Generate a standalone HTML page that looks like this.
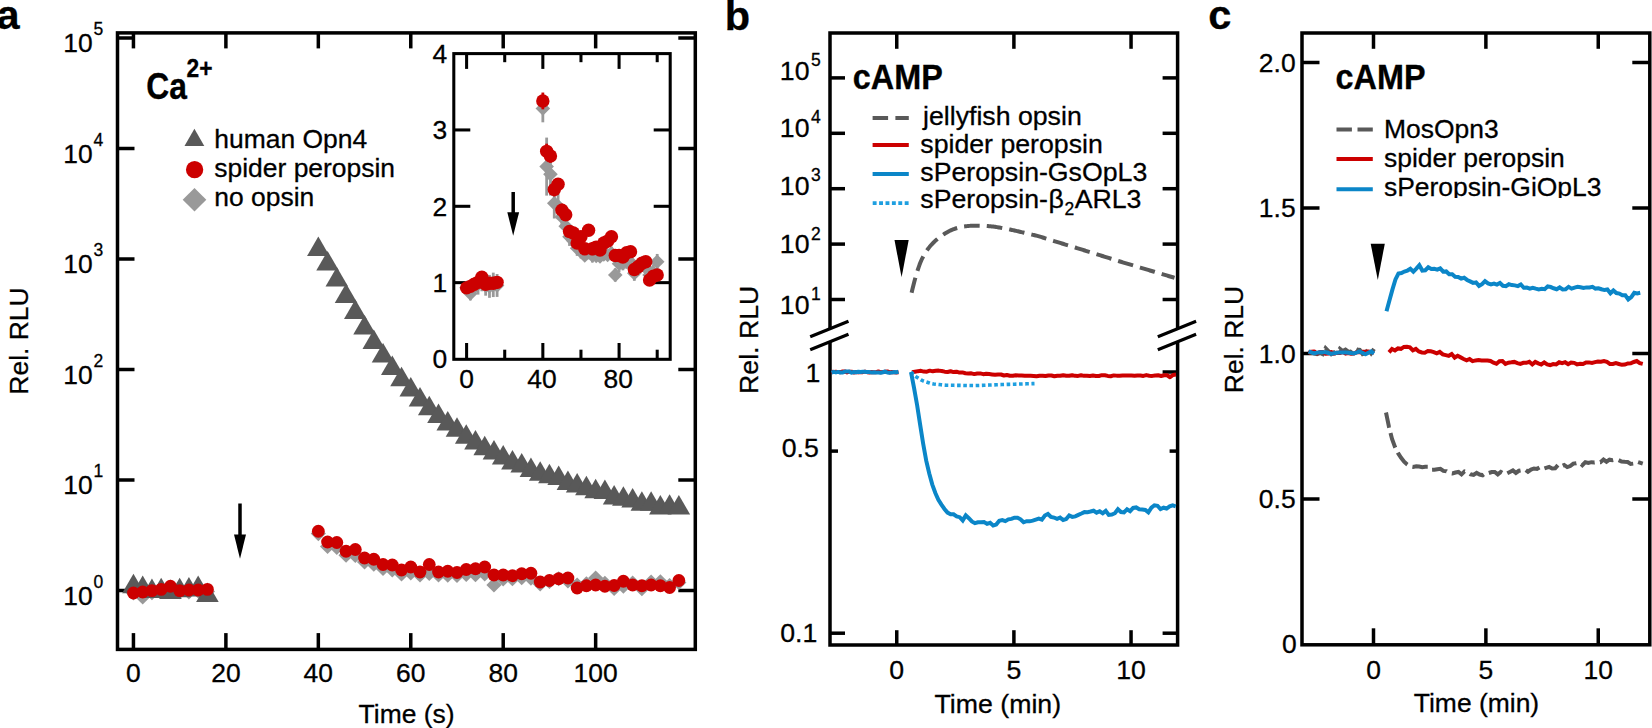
<!DOCTYPE html>
<html lang="en"><head><meta charset="utf-8"><title>Figure</title>
<style>html,body{margin:0;padding:0;background:#fff}svg{display:block}text{font-family:"Liberation Sans",Arial,Helvetica,sans-serif;fill:#000;stroke:#000;stroke-width:0.3px}</style></head><body>
<svg width="1652" height="728" viewBox="0 0 1652 728">
<rect width="1652" height="728" fill="#fff"/>
<g id="panel-a">
<rect x="117.5" y="32.9" width="577.8" height="616.5" fill="none" stroke="#000" stroke-width="3.5"/>
<line x1="133.45" y1="649.4" x2="133.45" y2="633.1" stroke="#000" stroke-width="3.5"/>
<line x1="133.45" y1="32.9" x2="133.45" y2="48.4" stroke="#000" stroke-width="3.5"/>
<text x="133.45" y="682" font-size="26.45" text-anchor="middle">0</text>
<line x1="225.89" y1="649.4" x2="225.89" y2="633.1" stroke="#000" stroke-width="3.5"/>
<line x1="225.89" y1="32.9" x2="225.89" y2="48.4" stroke="#000" stroke-width="3.5"/>
<text x="225.89" y="682" font-size="26.45" text-anchor="middle">20</text>
<line x1="318.33" y1="649.4" x2="318.33" y2="633.1" stroke="#000" stroke-width="3.5"/>
<line x1="318.33" y1="32.9" x2="318.33" y2="48.4" stroke="#000" stroke-width="3.5"/>
<text x="318.33" y="682" font-size="26.45" text-anchor="middle">40</text>
<line x1="410.77" y1="649.4" x2="410.77" y2="633.1" stroke="#000" stroke-width="3.5"/>
<line x1="410.77" y1="32.9" x2="410.77" y2="48.4" stroke="#000" stroke-width="3.5"/>
<text x="410.77" y="682" font-size="26.45" text-anchor="middle">60</text>
<line x1="503.21" y1="649.4" x2="503.21" y2="633.1" stroke="#000" stroke-width="3.5"/>
<line x1="503.21" y1="32.9" x2="503.21" y2="48.4" stroke="#000" stroke-width="3.5"/>
<text x="503.21" y="682" font-size="26.45" text-anchor="middle">80</text>
<line x1="595.65" y1="649.4" x2="595.65" y2="633.1" stroke="#000" stroke-width="3.5"/>
<line x1="595.65" y1="32.9" x2="595.65" y2="48.4" stroke="#000" stroke-width="3.5"/>
<text x="595.65" y="682" font-size="26.45" text-anchor="middle">100</text>
<line x1="117.5" y1="590.5" x2="134.5" y2="590.5" stroke="#000" stroke-width="3.5"/>
<line x1="695.3" y1="590.5" x2="678.3" y2="590.5" stroke="#000" stroke-width="3.5"/>
<text x="92.6" y="604.8" font-size="26.45" text-anchor="end">10</text>
<text x="93.6" y="587.9" font-size="17.5">0</text>
<line x1="117.5" y1="480" x2="134.5" y2="480" stroke="#000" stroke-width="3.5"/>
<line x1="695.3" y1="480" x2="678.3" y2="480" stroke="#000" stroke-width="3.5"/>
<text x="92.6" y="494.3" font-size="26.45" text-anchor="end">10</text>
<text x="93.6" y="477.4" font-size="17.5">1</text>
<line x1="117.5" y1="369.5" x2="134.5" y2="369.5" stroke="#000" stroke-width="3.5"/>
<line x1="695.3" y1="369.5" x2="678.3" y2="369.5" stroke="#000" stroke-width="3.5"/>
<text x="92.6" y="383.8" font-size="26.45" text-anchor="end">10</text>
<text x="93.6" y="366.9" font-size="17.5">2</text>
<line x1="117.5" y1="259" x2="134.5" y2="259" stroke="#000" stroke-width="3.5"/>
<line x1="695.3" y1="259" x2="678.3" y2="259" stroke="#000" stroke-width="3.5"/>
<text x="92.6" y="273.3" font-size="26.45" text-anchor="end">10</text>
<text x="93.6" y="256.4" font-size="17.5">3</text>
<line x1="117.5" y1="148.5" x2="134.5" y2="148.5" stroke="#000" stroke-width="3.5"/>
<line x1="695.3" y1="148.5" x2="678.3" y2="148.5" stroke="#000" stroke-width="3.5"/>
<text x="92.6" y="162.8" font-size="26.45" text-anchor="end">10</text>
<text x="93.6" y="145.9" font-size="17.5">4</text>
<line x1="117.5" y1="38" x2="134.5" y2="38" stroke="#000" stroke-width="3.5"/>
<line x1="695.3" y1="38" x2="678.3" y2="38" stroke="#000" stroke-width="3.5"/>
<text x="92.6" y="52.3" font-size="26.45" text-anchor="end">10</text>
<text x="93.6" y="35.4" font-size="17.5">5</text>
<g id="a-data">
<polygon points="125.85,593 133.45,585.4 141.05,593 133.45,600.6" fill="#999999"/>
<polygon points="135.09,597 142.69,589.4 150.29,597 142.69,604.6" fill="#999999"/>
<polygon points="144.34,592.6 151.94,585 159.54,592.6 151.94,600.2" fill="#999999"/>
<polygon points="153.58,590.4 161.18,582.8 168.78,590.4 161.18,598" fill="#999999"/>
<polygon points="162.83,589.25 170.43,581.65 178.03,589.25 170.43,596.85" fill="#999999"/>
<polygon points="172.07,591.6 179.67,584 187.27,591.6 179.67,599.2" fill="#999999"/>
<polygon points="181.31,592 188.91,584.4 196.51,592 188.91,599.6" fill="#999999"/>
<polygon points="190.56,591 198.16,583.4 205.76,591 198.16,598.6" fill="#999999"/>
<polygon points="199.8,591.4 207.4,583.8 215,591.4 207.4,599" fill="#999999"/>
<polygon points="310.73,533.55 318.33,525.95 325.93,533.55 318.33,541.15" fill="#999999"/>
<polygon points="319.97,546.5 327.57,538.9 335.17,546.5 327.57,554.1" fill="#999999"/>
<polygon points="329.22,547.5 336.82,539.9 344.42,547.5 336.82,555.1" fill="#999999"/>
<polygon points="338.46,555.25 346.06,547.65 353.66,555.25 346.06,562.85" fill="#999999"/>
<polygon points="347.71,555.5 355.31,547.9 362.91,555.5 355.31,563.1" fill="#999999"/>
<polygon points="356.95,562 364.55,554.4 372.15,562 364.55,569.6" fill="#999999"/>
<polygon points="366.19,564.25 373.79,556.65 381.39,564.25 373.79,571.85" fill="#999999"/>
<polygon points="375.44,568.5 383.04,560.9 390.64,568.5 383.04,576.1" fill="#999999"/>
<polygon points="384.68,570 392.28,562.4 399.88,570 392.28,577.6" fill="#999999"/>
<polygon points="393.93,574 401.53,566.4 409.13,574 401.53,581.6" fill="#999999"/>
<polygon points="403.17,573 410.77,565.4 418.37,573 410.77,580.6" fill="#999999"/>
<polygon points="412.41,575 420.01,567.4 427.61,575 420.01,582.6" fill="#999999"/>
<polygon points="421.66,573.5 429.26,565.9 436.86,573.5 429.26,581.1" fill="#999999"/>
<polygon points="430.9,575 438.5,567.4 446.1,575 438.5,582.6" fill="#999999"/>
<polygon points="440.15,575.25 447.75,567.65 455.35,575.25 447.75,582.85" fill="#999999"/>
<polygon points="449.39,575.5 456.99,567.9 464.59,575.5 456.99,583.1" fill="#999999"/>
<polygon points="458.63,574.5 466.23,566.9 473.83,574.5 466.23,582.1" fill="#999999"/>
<polygon points="467.88,574.75 475.48,567.15 483.08,574.75 475.48,582.35" fill="#999999"/>
<polygon points="477.12,574 484.72,566.4 492.32,574 484.72,581.6" fill="#999999"/>
<polygon points="486.37,585 493.97,577.4 501.57,585 493.97,592.6" fill="#999999"/>
<polygon points="495.61,579 503.21,571.4 510.81,579 503.21,586.6" fill="#999999"/>
<polygon points="504.85,578.75 512.45,571.15 520.05,578.75 512.45,586.35" fill="#999999"/>
<polygon points="514.1,577.75 521.7,570.15 529.3,577.75 521.7,585.35" fill="#999999"/>
<polygon points="523.34,578.25 530.94,570.65 538.54,578.25 530.94,585.85" fill="#999999"/>
<polygon points="532.59,584 540.19,576.4 547.79,584 540.19,591.6" fill="#999999"/>
<polygon points="541.83,581.5 549.43,573.9 557.03,581.5 549.43,589.1" fill="#999999"/>
<polygon points="551.07,578.75 558.67,571.15 566.27,578.75 558.67,586.35" fill="#999999"/>
<polygon points="560.32,581 567.92,573.4 575.52,581 567.92,588.6" fill="#999999"/>
<polygon points="569.56,585 577.16,577.4 584.76,585 577.16,592.6" fill="#999999"/>
<polygon points="578.81,583.75 586.41,576.15 594.01,583.75 586.41,591.35" fill="#999999"/>
<polygon points="588.05,578 595.65,570.4 603.25,578 595.65,585.6" fill="#999999"/>
<polygon points="597.29,583.25 604.89,575.65 612.49,583.25 604.89,590.85" fill="#999999"/>
<polygon points="606.54,588.5 614.14,580.9 621.74,588.5 614.14,596.1" fill="#999999"/>
<polygon points="615.78,586.25 623.38,578.65 630.98,586.25 623.38,593.85" fill="#999999"/>
<polygon points="625.03,583 632.63,575.4 640.23,583 632.63,590.6" fill="#999999"/>
<polygon points="634.27,588.75 641.87,581.15 649.47,588.75 641.87,596.35" fill="#999999"/>
<polygon points="643.51,582 651.11,574.4 658.71,582 651.11,589.6" fill="#999999"/>
<polygon points="652.76,581.75 660.36,574.15 667.96,581.75 660.36,589.35" fill="#999999"/>
<polygon points="662,585.5 669.6,577.9 677.2,585.5 669.6,593.1" fill="#999999"/>
<polygon points="671.25,582.5 678.85,574.9 686.45,582.5 678.85,590.1" fill="#999999"/>
<polygon points="122.15,593.25 144.75,593.25 133.45,573.75" fill="#595959"/>
<polygon points="131.39,595.1 153.99,595.1 142.69,575.6" fill="#595959"/>
<polygon points="140.64,598 163.24,598 151.94,578.5" fill="#595959"/>
<polygon points="149.88,597.25 172.48,597.25 161.18,577.75" fill="#595959"/>
<polygon points="159.13,598.9 181.73,598.9 170.43,579.4" fill="#595959"/>
<polygon points="168.37,597.25 190.97,597.25 179.67,577.75" fill="#595959"/>
<polygon points="177.61,596.6 200.21,596.6 188.91,577.1" fill="#595959"/>
<polygon points="186.86,595.1 209.46,595.1 198.16,575.6" fill="#595959"/>
<polygon points="196.1,602 218.7,602 207.4,582.5" fill="#595959"/>
<polygon points="307.03,256.1 329.63,256.1 318.33,236.6" fill="#595959"/>
<polygon points="316.27,270.5 338.87,270.5 327.57,251" fill="#595959"/>
<polygon points="325.52,286.4 348.12,286.4 336.82,266.9" fill="#595959"/>
<polygon points="334.76,303 357.36,303 346.06,283.5" fill="#595959"/>
<polygon points="344.01,319.1 366.61,319.1 355.31,299.6" fill="#595959"/>
<polygon points="353.25,334.5 375.85,334.5 364.55,315" fill="#595959"/>
<polygon points="362.49,348.9 385.09,348.9 373.79,329.4" fill="#595959"/>
<polygon points="371.74,362.6 394.34,362.6 383.04,343.1" fill="#595959"/>
<polygon points="380.98,375 403.58,375 392.28,355.5" fill="#595959"/>
<polygon points="390.23,386.3 412.83,386.3 401.53,366.8" fill="#595959"/>
<polygon points="399.47,396.6 422.07,396.6 410.77,377.1" fill="#595959"/>
<polygon points="408.71,406.6 431.31,406.6 420.01,387.1" fill="#595959"/>
<polygon points="417.96,415.2 440.56,415.2 429.26,395.7" fill="#595959"/>
<polygon points="427.2,422.9 449.8,422.9 438.5,403.4" fill="#595959"/>
<polygon points="436.45,430.5 459.05,430.5 447.75,411" fill="#595959"/>
<polygon points="445.69,436.7 468.29,436.7 456.99,417.2" fill="#595959"/>
<polygon points="454.93,443.75 477.53,443.75 466.23,424.25" fill="#595959"/>
<polygon points="464.18,449.5 486.78,449.5 475.48,430" fill="#595959"/>
<polygon points="473.42,455.25 496.02,455.25 484.72,435.75" fill="#595959"/>
<polygon points="482.67,459.5 505.27,459.5 493.97,440" fill="#595959"/>
<polygon points="491.91,464.5 514.51,464.5 503.21,445" fill="#595959"/>
<polygon points="501.15,469.5 523.75,469.5 512.45,450" fill="#595959"/>
<polygon points="510.4,472.5 533,472.5 521.7,453" fill="#595959"/>
<polygon points="519.64,477 542.24,477 530.94,457.5" fill="#595959"/>
<polygon points="528.89,480.75 551.49,480.75 540.19,461.25" fill="#595959"/>
<polygon points="538.13,483.25 560.73,483.25 549.43,463.75" fill="#595959"/>
<polygon points="547.37,485 569.97,485 558.67,465.5" fill="#595959"/>
<polygon points="556.62,490 579.22,490 567.92,470.5" fill="#595959"/>
<polygon points="565.86,492.5 588.46,492.5 577.16,473" fill="#595959"/>
<polygon points="575.11,495.25 597.71,495.25 586.41,475.75" fill="#595959"/>
<polygon points="584.35,498.25 606.95,498.25 595.65,478.75" fill="#595959"/>
<polygon points="593.59,499 616.19,499 604.89,479.5" fill="#595959"/>
<polygon points="602.84,504.5 625.44,504.5 614.14,485" fill="#595959"/>
<polygon points="612.08,505.75 634.68,505.75 623.38,486.25" fill="#595959"/>
<polygon points="621.33,507.5 643.93,507.5 632.63,488" fill="#595959"/>
<polygon points="630.57,510.75 653.17,510.75 641.87,491.25" fill="#595959"/>
<polygon points="639.81,510.75 662.41,510.75 651.11,491.25" fill="#595959"/>
<polygon points="649.06,514.5 671.66,514.5 660.36,495" fill="#595959"/>
<polygon points="658.3,513.75 680.9,513.75 669.6,494.25" fill="#595959"/>
<polygon points="667.55,514.5 690.15,514.5 678.85,495" fill="#595959"/>
<circle cx="133.45" cy="593" r="6.4" fill="#cc0000"/>
<circle cx="142.69" cy="592" r="6.4" fill="#cc0000"/>
<circle cx="151.94" cy="590.6" r="6.4" fill="#cc0000"/>
<circle cx="161.18" cy="589.4" r="6.4" fill="#cc0000"/>
<circle cx="170.43" cy="586.25" r="6.4" fill="#cc0000"/>
<circle cx="179.67" cy="590.6" r="6.4" fill="#cc0000"/>
<circle cx="188.91" cy="590" r="6.4" fill="#cc0000"/>
<circle cx="198.16" cy="590" r="6.4" fill="#cc0000"/>
<circle cx="207.4" cy="589.4" r="6.4" fill="#cc0000"/>
<circle cx="318.33" cy="531.25" r="6.4" fill="#cc0000"/>
<circle cx="327.57" cy="542" r="6.4" fill="#cc0000"/>
<circle cx="336.82" cy="542.5" r="6.4" fill="#cc0000"/>
<circle cx="346.06" cy="551.25" r="6.4" fill="#cc0000"/>
<circle cx="355.31" cy="549.5" r="6.4" fill="#cc0000"/>
<circle cx="364.55" cy="558" r="6.4" fill="#cc0000"/>
<circle cx="373.79" cy="559.25" r="6.4" fill="#cc0000"/>
<circle cx="383.04" cy="564.5" r="6.4" fill="#cc0000"/>
<circle cx="392.28" cy="565" r="6.4" fill="#cc0000"/>
<circle cx="401.53" cy="570" r="6.4" fill="#cc0000"/>
<circle cx="410.77" cy="567" r="6.4" fill="#cc0000"/>
<circle cx="420.01" cy="572" r="6.4" fill="#cc0000"/>
<circle cx="429.26" cy="564.5" r="6.4" fill="#cc0000"/>
<circle cx="438.5" cy="572" r="6.4" fill="#cc0000"/>
<circle cx="447.75" cy="571.25" r="6.4" fill="#cc0000"/>
<circle cx="456.99" cy="572.5" r="6.4" fill="#cc0000"/>
<circle cx="466.23" cy="569.5" r="6.4" fill="#cc0000"/>
<circle cx="475.48" cy="568.75" r="6.4" fill="#cc0000"/>
<circle cx="484.72" cy="567" r="6.4" fill="#cc0000"/>
<circle cx="493.97" cy="575" r="6.4" fill="#cc0000"/>
<circle cx="503.21" cy="575" r="6.4" fill="#cc0000"/>
<circle cx="512.45" cy="575.75" r="6.4" fill="#cc0000"/>
<circle cx="521.7" cy="573.75" r="6.4" fill="#cc0000"/>
<circle cx="530.94" cy="573.25" r="6.4" fill="#cc0000"/>
<circle cx="540.19" cy="582" r="6.4" fill="#cc0000"/>
<circle cx="549.43" cy="580.5" r="6.4" fill="#cc0000"/>
<circle cx="558.67" cy="578.75" r="6.4" fill="#cc0000"/>
<circle cx="567.92" cy="578" r="6.4" fill="#cc0000"/>
<circle cx="577.16" cy="588" r="6.4" fill="#cc0000"/>
<circle cx="586.41" cy="585.75" r="6.4" fill="#cc0000"/>
<circle cx="595.65" cy="585" r="6.4" fill="#cc0000"/>
<circle cx="604.89" cy="586.25" r="6.4" fill="#cc0000"/>
<circle cx="614.14" cy="585.5" r="6.4" fill="#cc0000"/>
<circle cx="623.38" cy="581.25" r="6.4" fill="#cc0000"/>
<circle cx="632.63" cy="585" r="6.4" fill="#cc0000"/>
<circle cx="641.87" cy="585.75" r="6.4" fill="#cc0000"/>
<circle cx="651.11" cy="585" r="6.4" fill="#cc0000"/>
<circle cx="660.36" cy="585.75" r="6.4" fill="#cc0000"/>
<circle cx="669.6" cy="587.5" r="6.4" fill="#cc0000"/>
<circle cx="678.85" cy="580.5" r="6.4" fill="#cc0000"/>
</g>
<text x="406.6" y="722.5" font-size="26.45" text-anchor="middle">Time (s)</text>
<text transform="translate(27.6 341) rotate(-90)" font-size="26.45" text-anchor="middle">Rel. RLU</text>
<text x="-3.5" y="29.2" font-size="41.5" font-weight="bold">a</text>
<text transform="translate(146.3 98.9) scale(1 1.19)" font-size="31.8" font-weight="bold">Ca</text>
<text transform="translate(186.6 77) scale(1 1.12)" font-size="22.8" font-weight="bold">2+</text>
<polygon points="184.5,146 204.3,146 194.4,128.8" fill="#595959"/>
<circle cx="194.6" cy="169.7" r="8.65" fill="#cc0000"/>
<polygon points="182.7,199.8 194.5,188 206.3,199.8 194.5,211.6" fill="#999999"/>
<text x="214.3" y="147.5" font-size="26.45">human Opn4</text>
<text x="214.3" y="176.6" font-size="26.45">spider peropsin</text>
<text x="214.3" y="206" font-size="26.45">no opsin</text>
<line x1="240" y1="503.5" x2="240" y2="535.4" stroke="#000" stroke-width="3.5"/>
<polygon points="234,534.4 246,534.4 240,558.8" fill="#000"/>
</g>
<g id="inset">
<rect x="453.8" y="53.6" width="216.4" height="305.7" fill="none" stroke="#000" stroke-width="3.05"/>
<line x1="466.6" y1="359.3" x2="466.6" y2="343" stroke="#000" stroke-width="3.05"/>
<line x1="466.6" y1="53.6" x2="466.6" y2="68.9" stroke="#000" stroke-width="3.05"/>
<text x="466.6" y="388.4" font-size="26.45" text-anchor="middle">0</text>
<line x1="504.72" y1="359.3" x2="504.72" y2="349.7" stroke="#000" stroke-width="3.05"/>
<line x1="504.72" y1="53.6" x2="504.72" y2="62.2" stroke="#000" stroke-width="3.05"/>
<line x1="542.84" y1="359.3" x2="542.84" y2="343" stroke="#000" stroke-width="3.05"/>
<line x1="542.84" y1="53.6" x2="542.84" y2="68.9" stroke="#000" stroke-width="3.05"/>
<text x="542.04" y="388.4" font-size="26.45" text-anchor="middle">40</text>
<line x1="580.96" y1="359.3" x2="580.96" y2="349.7" stroke="#000" stroke-width="3.05"/>
<line x1="580.96" y1="53.6" x2="580.96" y2="62.2" stroke="#000" stroke-width="3.05"/>
<line x1="619.08" y1="359.3" x2="619.08" y2="343" stroke="#000" stroke-width="3.05"/>
<line x1="619.08" y1="53.6" x2="619.08" y2="68.9" stroke="#000" stroke-width="3.05"/>
<text x="618.28" y="388.4" font-size="26.45" text-anchor="middle">80</text>
<line x1="657.2" y1="359.3" x2="657.2" y2="349.7" stroke="#000" stroke-width="3.05"/>
<line x1="657.2" y1="53.6" x2="657.2" y2="62.2" stroke="#000" stroke-width="3.05"/>
<text x="447.2" y="368.2" font-size="26.45" text-anchor="end">0</text>
<line x1="453.8" y1="282.65" x2="470.3" y2="282.65" stroke="#000" stroke-width="3.05"/>
<line x1="670.2" y1="282.65" x2="653.7" y2="282.65" stroke="#000" stroke-width="3.05"/>
<text x="447.2" y="291.85" font-size="26.45" text-anchor="end">1</text>
<line x1="453.8" y1="206.3" x2="470.3" y2="206.3" stroke="#000" stroke-width="3.05"/>
<line x1="670.2" y1="206.3" x2="653.7" y2="206.3" stroke="#000" stroke-width="3.05"/>
<text x="447.2" y="215.5" font-size="26.45" text-anchor="end">2</text>
<line x1="453.8" y1="129.95" x2="470.3" y2="129.95" stroke="#000" stroke-width="3.05"/>
<line x1="670.2" y1="129.95" x2="653.7" y2="129.95" stroke="#000" stroke-width="3.05"/>
<text x="447.2" y="139.15" font-size="26.45" text-anchor="end">3</text>
<text x="447.2" y="62.8" font-size="26.45" text-anchor="end">4</text>
<line x1="513.2" y1="192" x2="513.2" y2="213.3" stroke="#000" stroke-width="3.5"/>
<polygon points="507.3,212.3 519.1,212.3 513.2,235.8" fill="#000"/>
<g id="inset-data">
<line x1="466.6" y1="293.98" x2="466.6" y2="281.76" stroke="#999999" stroke-width="2.8"/>
<line x1="470.41" y1="300.43" x2="470.41" y2="286.69" stroke="#999999" stroke-width="2.8"/>
<line x1="474.22" y1="294.91" x2="474.22" y2="279.64" stroke="#999999" stroke-width="2.8"/>
<line x1="478.04" y1="294.6" x2="478.04" y2="273.22" stroke="#999999" stroke-width="2.8"/>
<line x1="481.85" y1="291.25" x2="481.85" y2="272.93" stroke="#999999" stroke-width="2.8"/>
<line x1="485.66" y1="295.69" x2="485.66" y2="275.84" stroke="#999999" stroke-width="2.8"/>
<line x1="489.47" y1="297.83" x2="489.47" y2="274.92" stroke="#999999" stroke-width="2.8"/>
<line x1="493.28" y1="297.06" x2="493.28" y2="272.63" stroke="#999999" stroke-width="2.8"/>
<line x1="497.1" y1="296.91" x2="497.1" y2="274.01" stroke="#999999" stroke-width="2.8"/>
<line x1="542.84" y1="122.32" x2="542.84" y2="94.83" stroke="#999999" stroke-width="2.8"/>
<line x1="546.65" y1="195.61" x2="546.65" y2="137.59" stroke="#999999" stroke-width="2.8"/>
<line x1="550.46" y1="195.61" x2="550.46" y2="152.85" stroke="#999999" stroke-width="2.8"/>
<line x1="554.28" y1="218.52" x2="554.28" y2="187.98" stroke="#999999" stroke-width="2.8"/>
<line x1="558.09" y1="219.28" x2="558.09" y2="193.32" stroke="#999999" stroke-width="2.8"/>
<line x1="561.9" y1="227.68" x2="561.9" y2="206.3" stroke="#999999" stroke-width="2.8"/>
<line x1="565.71" y1="236.08" x2="565.71" y2="216.23" stroke="#999999" stroke-width="2.8"/>
<line x1="569.52" y1="245.92" x2="569.52" y2="227.76" stroke="#999999" stroke-width="2.8"/>
<line x1="573.34" y1="249.66" x2="573.34" y2="231.66" stroke="#999999" stroke-width="2.8"/>
<line x1="577.15" y1="255.87" x2="577.15" y2="240.72" stroke="#999999" stroke-width="2.8"/>
<line x1="580.96" y1="258.5" x2="580.96" y2="243.7" stroke="#999999" stroke-width="2.8"/>
<line x1="584.77" y1="260.8" x2="584.77" y2="250.2" stroke="#999999" stroke-width="2.8"/>
<line x1="588.58" y1="256.86" x2="588.58" y2="247.57" stroke="#999999" stroke-width="2.8"/>
<line x1="592.4" y1="262.5" x2="592.4" y2="248.5" stroke="#999999" stroke-width="2.8"/>
<line x1="596.21" y1="260.89" x2="596.21" y2="251.19" stroke="#999999" stroke-width="2.8"/>
<line x1="600.02" y1="262.03" x2="600.02" y2="251.12" stroke="#999999" stroke-width="2.8"/>
<line x1="603.83" y1="260.11" x2="603.83" y2="248.73" stroke="#999999" stroke-width="2.8"/>
<line x1="607.64" y1="259.68" x2="607.64" y2="250.24" stroke="#999999" stroke-width="2.8"/>
<line x1="611.46" y1="260.03" x2="611.46" y2="246.62" stroke="#999999" stroke-width="2.8"/>
<line x1="615.27" y1="281.57" x2="615.27" y2="268.37" stroke="#999999" stroke-width="2.8"/>
<line x1="619.08" y1="272.22" x2="619.08" y2="255.34" stroke="#999999" stroke-width="2.8"/>
<line x1="622.89" y1="270.24" x2="622.89" y2="256.32" stroke="#999999" stroke-width="2.8"/>
<line x1="626.7" y1="268.78" x2="626.7" y2="253.75" stroke="#999999" stroke-width="2.8"/>
<line x1="630.52" y1="269.15" x2="630.52" y2="255.41" stroke="#999999" stroke-width="2.8"/>
<line x1="634.33" y1="280.82" x2="634.33" y2="265.58" stroke="#999999" stroke-width="2.8"/>
<line x1="638.14" y1="275.29" x2="638.14" y2="261.94" stroke="#999999" stroke-width="2.8"/>
<line x1="641.95" y1="269.14" x2="641.95" y2="257.43" stroke="#999999" stroke-width="2.8"/>
<line x1="645.76" y1="276.82" x2="645.76" y2="258.51" stroke="#999999" stroke-width="2.8"/>
<line x1="649.58" y1="284.11" x2="649.58" y2="265.83" stroke="#999999" stroke-width="2.8"/>
<line x1="653.39" y1="281.18" x2="653.39" y2="264.32" stroke="#999999" stroke-width="2.8"/>
<line x1="657.2" y1="269.6" x2="657.2" y2="253.95" stroke="#999999" stroke-width="2.8"/>
<polygon points="459.3,287.87 466.6,280.57 473.9,287.87 466.6,295.17" fill="#999999"/>
<polygon points="463.11,293.56 470.41,286.26 477.71,293.56 470.41,300.86" fill="#999999"/>
<polygon points="466.92,287.28 474.22,279.98 481.52,287.28 474.22,294.58" fill="#999999"/>
<polygon points="470.74,283.91 478.04,276.61 485.34,283.91 478.04,291.21" fill="#999999"/>
<polygon points="474.55,282.09 481.85,274.79 489.15,282.09 481.85,289.39" fill="#999999"/>
<polygon points="478.36,285.77 485.66,278.47 492.96,285.77 485.66,293.07" fill="#999999"/>
<polygon points="482.17,286.37 489.47,279.07 496.77,286.37 489.47,293.67" fill="#999999"/>
<polygon points="485.98,284.85 493.28,277.55 500.58,284.85 493.28,292.15" fill="#999999"/>
<polygon points="489.8,285.46 497.1,278.16 504.4,285.46 497.1,292.76" fill="#999999"/>
<polygon points="535.54,108.57 542.84,101.27 550.14,108.57 542.84,115.87" fill="#999999"/>
<polygon points="539.35,166.6 546.65,159.3 553.95,166.6 546.65,173.9" fill="#999999"/>
<polygon points="543.16,174.23 550.46,166.93 557.76,174.23 550.46,181.53" fill="#999999"/>
<polygon points="546.98,203.25 554.28,195.95 561.58,203.25 554.28,210.55" fill="#999999"/>
<polygon points="550.79,206.3 558.09,199 565.39,206.3 558.09,213.6" fill="#999999"/>
<polygon points="554.6,216.99 561.9,209.69 569.2,216.99 561.9,224.29" fill="#999999"/>
<polygon points="558.41,226.15 565.71,218.85 573.01,226.15 565.71,233.45" fill="#999999"/>
<polygon points="562.22,236.84 569.52,229.54 576.82,236.84 569.52,244.14" fill="#999999"/>
<polygon points="566.04,240.66 573.34,233.36 580.64,240.66 573.34,247.96" fill="#999999"/>
<polygon points="569.85,248.29 577.15,240.99 584.45,248.29 577.15,255.59" fill="#999999"/>
<polygon points="573.66,251.1 580.96,243.8 588.26,251.1 580.96,258.4" fill="#999999"/>
<polygon points="577.47,255.5 584.77,248.2 592.07,255.5 584.77,262.8" fill="#999999"/>
<polygon points="581.28,252.21 588.58,244.91 595.88,252.21 588.58,259.51" fill="#999999"/>
<polygon points="585.1,255.5 592.4,248.2 599.7,255.5 592.4,262.8" fill="#999999"/>
<polygon points="588.91,256.04 596.21,248.74 603.51,256.04 596.21,263.34" fill="#999999"/>
<polygon points="592.72,256.57 600.02,249.27 607.32,256.57 600.02,263.87" fill="#999999"/>
<polygon points="596.53,254.42 603.83,247.12 611.13,254.42 603.83,261.72" fill="#999999"/>
<polygon points="600.34,254.96 607.64,247.66 614.94,254.96 607.64,262.26" fill="#999999"/>
<polygon points="604.16,253.32 611.46,246.02 618.76,253.32 611.46,260.62" fill="#999999"/>
<polygon points="607.97,274.97 615.27,267.67 622.57,274.97 615.27,282.27" fill="#999999"/>
<polygon points="611.78,263.78 619.08,256.48 626.38,263.78 619.08,271.08" fill="#999999"/>
<polygon points="615.59,263.28 622.89,255.98 630.19,263.28 622.89,270.58" fill="#999999"/>
<polygon points="619.4,261.27 626.7,253.97 634,261.27 626.7,268.57" fill="#999999"/>
<polygon points="623.22,262.28 630.52,254.98 637.82,262.28 630.52,269.58" fill="#999999"/>
<polygon points="627.03,273.2 634.33,265.9 641.63,273.2 634.33,280.5" fill="#999999"/>
<polygon points="630.84,268.61 638.14,261.31 645.44,268.61 638.14,275.91" fill="#999999"/>
<polygon points="634.65,263.28 641.95,255.98 649.25,263.28 641.95,270.58" fill="#999999"/>
<polygon points="638.46,267.67 645.76,260.37 653.06,267.67 645.76,274.97" fill="#999999"/>
<polygon points="642.28,274.97 649.58,267.67 656.88,274.97 649.58,282.27" fill="#999999"/>
<polygon points="646.09,272.75 653.39,265.45 660.69,272.75 653.39,280.05" fill="#999999"/>
<polygon points="649.9,261.77 657.2,254.47 664.5,261.77 657.2,269.07" fill="#999999"/>
<line x1="466.6" y1="291.75" x2="466.6" y2="284" stroke="#cc0000" stroke-width="2.8"/>
<circle cx="466.6" cy="287.87" r="6.7" fill="#cc0000"/>
<line x1="470.41" y1="289.92" x2="470.41" y2="282.83" stroke="#cc0000" stroke-width="2.8"/>
<circle cx="470.41" cy="286.37" r="6.7" fill="#cc0000"/>
<line x1="474.22" y1="288" x2="474.22" y2="280.45" stroke="#cc0000" stroke-width="2.8"/>
<circle cx="474.22" cy="284.22" r="6.7" fill="#cc0000"/>
<line x1="478.04" y1="285.27" x2="478.04" y2="279.39" stroke="#cc0000" stroke-width="2.8"/>
<circle cx="478.04" cy="282.33" r="6.7" fill="#cc0000"/>
<line x1="481.85" y1="282.73" x2="481.85" y2="271.53" stroke="#cc0000" stroke-width="2.8"/>
<circle cx="481.85" cy="277.13" r="6.7" fill="#cc0000"/>
<line x1="485.66" y1="288.43" x2="485.66" y2="280.02" stroke="#cc0000" stroke-width="2.8"/>
<circle cx="485.66" cy="284.22" r="6.7" fill="#cc0000"/>
<line x1="489.47" y1="289.19" x2="489.47" y2="277.38" stroke="#cc0000" stroke-width="2.8"/>
<circle cx="489.47" cy="283.28" r="6.7" fill="#cc0000"/>
<line x1="493.28" y1="287.43" x2="493.28" y2="279.14" stroke="#cc0000" stroke-width="2.8"/>
<circle cx="493.28" cy="283.28" r="6.7" fill="#cc0000"/>
<line x1="497.1" y1="288.66" x2="497.1" y2="276" stroke="#cc0000" stroke-width="2.8"/>
<circle cx="497.1" cy="282.33" r="6.7" fill="#cc0000"/>
<line x1="542.84" y1="109.34" x2="542.84" y2="92.54" stroke="#cc0000" stroke-width="2.8"/>
<circle cx="542.84" cy="100.94" r="6.7" fill="#cc0000"/>
<line x1="546.65" y1="158.96" x2="546.65" y2="143.69" stroke="#cc0000" stroke-width="2.8"/>
<circle cx="546.65" cy="151.33" r="6.7" fill="#cc0000"/>
<line x1="550.46" y1="162.78" x2="550.46" y2="149.04" stroke="#cc0000" stroke-width="2.8"/>
<circle cx="550.46" cy="155.91" r="6.7" fill="#cc0000"/>
<line x1="554.28" y1="196.37" x2="554.28" y2="182.63" stroke="#cc0000" stroke-width="2.8"/>
<circle cx="554.28" cy="189.5" r="6.7" fill="#cc0000"/>
<line x1="558.09" y1="190.27" x2="558.09" y2="178.05" stroke="#cc0000" stroke-width="2.8"/>
<circle cx="558.09" cy="184.16" r="6.7" fill="#cc0000"/>
<line x1="561.9" y1="216.53" x2="561.9" y2="203.7" stroke="#cc0000" stroke-width="2.8"/>
<circle cx="561.9" cy="210.12" r="6.7" fill="#cc0000"/>
<line x1="565.71" y1="218.89" x2="565.71" y2="210.51" stroke="#cc0000" stroke-width="2.8"/>
<circle cx="565.71" cy="214.7" r="6.7" fill="#cc0000"/>
<line x1="569.52" y1="234.45" x2="569.52" y2="228.54" stroke="#cc0000" stroke-width="2.8"/>
<circle cx="569.52" cy="231.5" r="6.7" fill="#cc0000"/>
<line x1="573.34" y1="238.1" x2="573.34" y2="227.95" stroke="#cc0000" stroke-width="2.8"/>
<circle cx="573.34" cy="233.02" r="6.7" fill="#cc0000"/>
<line x1="577.15" y1="248.59" x2="577.15" y2="237.3" stroke="#cc0000" stroke-width="2.8"/>
<circle cx="577.15" cy="242.95" r="6.7" fill="#cc0000"/>
<line x1="580.96" y1="240.43" x2="580.96" y2="233.02" stroke="#cc0000" stroke-width="2.8"/>
<circle cx="580.96" cy="236.73" r="6.7" fill="#cc0000"/>
<line x1="584.77" y1="251.83" x2="584.77" y2="245.82" stroke="#cc0000" stroke-width="2.8"/>
<circle cx="584.77" cy="248.82" r="6.7" fill="#cc0000"/>
<line x1="588.58" y1="234.13" x2="588.58" y2="226.25" stroke="#cc0000" stroke-width="2.8"/>
<circle cx="588.58" cy="230.19" r="6.7" fill="#cc0000"/>
<line x1="592.4" y1="255.18" x2="592.4" y2="242.47" stroke="#cc0000" stroke-width="2.8"/>
<circle cx="592.4" cy="248.82" r="6.7" fill="#cc0000"/>
<line x1="596.21" y1="252.66" x2="596.21" y2="241.52" stroke="#cc0000" stroke-width="2.8"/>
<circle cx="596.21" cy="247.09" r="6.7" fill="#cc0000"/>
<line x1="600.02" y1="253.09" x2="600.02" y2="246.84" stroke="#cc0000" stroke-width="2.8"/>
<circle cx="600.02" cy="249.97" r="6.7" fill="#cc0000"/>
<line x1="603.83" y1="246.55" x2="603.83" y2="239.32" stroke="#cc0000" stroke-width="2.8"/>
<circle cx="603.83" cy="242.93" r="6.7" fill="#cc0000"/>
<line x1="607.64" y1="244.16" x2="607.64" y2="238.05" stroke="#cc0000" stroke-width="2.8"/>
<circle cx="607.64" cy="241.1" r="6.7" fill="#cc0000"/>
<line x1="611.46" y1="239.63" x2="611.46" y2="233.83" stroke="#cc0000" stroke-width="2.8"/>
<circle cx="611.46" cy="236.73" r="6.7" fill="#cc0000"/>
<line x1="615.27" y1="261.22" x2="615.27" y2="249.79" stroke="#cc0000" stroke-width="2.8"/>
<circle cx="615.27" cy="255.5" r="6.7" fill="#cc0000"/>
<line x1="619.08" y1="258.85" x2="619.08" y2="252.15" stroke="#cc0000" stroke-width="2.8"/>
<circle cx="619.08" cy="255.5" r="6.7" fill="#cc0000"/>
<line x1="622.89" y1="261.91" x2="622.89" y2="252.3" stroke="#cc0000" stroke-width="2.8"/>
<circle cx="622.89" cy="257.11" r="6.7" fill="#cc0000"/>
<line x1="626.7" y1="257.15" x2="626.7" y2="248.39" stroke="#cc0000" stroke-width="2.8"/>
<circle cx="626.7" cy="252.77" r="6.7" fill="#cc0000"/>
<line x1="630.52" y1="255.06" x2="630.52" y2="248.26" stroke="#cc0000" stroke-width="2.8"/>
<circle cx="630.52" cy="251.66" r="6.7" fill="#cc0000"/>
<line x1="634.33" y1="275.01" x2="634.33" y2="264.08" stroke="#cc0000" stroke-width="2.8"/>
<circle cx="634.33" cy="269.55" r="6.7" fill="#cc0000"/>
<line x1="638.14" y1="269.88" x2="638.14" y2="263.54" stroke="#cc0000" stroke-width="2.8"/>
<circle cx="638.14" cy="266.71" r="6.7" fill="#cc0000"/>
<line x1="641.95" y1="268.41" x2="641.95" y2="258.15" stroke="#cc0000" stroke-width="2.8"/>
<circle cx="641.95" cy="263.28" r="6.7" fill="#cc0000"/>
<line x1="645.76" y1="264.89" x2="645.76" y2="258.66" stroke="#cc0000" stroke-width="2.8"/>
<circle cx="645.76" cy="261.77" r="6.7" fill="#cc0000"/>
<line x1="649.58" y1="284.34" x2="649.58" y2="275.78" stroke="#cc0000" stroke-width="2.8"/>
<circle cx="649.58" cy="280.06" r="6.7" fill="#cc0000"/>
<line x1="653.39" y1="279.76" x2="653.39" y2="272.79" stroke="#cc0000" stroke-width="2.8"/>
<circle cx="653.39" cy="276.27" r="6.7" fill="#cc0000"/>
<line x1="657.2" y1="278.67" x2="657.2" y2="271.27" stroke="#cc0000" stroke-width="2.8"/>
<circle cx="657.2" cy="274.97" r="6.7" fill="#cc0000"/>
</g>
</g>
<g id="panel-b">
<path d="M830 328.3 L830 33 L1177.6 33 L1177.6 328.3 M830 341.5 L830 645 L1177.6 645 L1177.6 341.5" fill="none" stroke="#000" stroke-width="3.5"/>
<line x1="810.2" y1="336.7" x2="848.5" y2="321.2" stroke="#000" stroke-width="3.2"/>
<line x1="810.2" y1="349.7" x2="848.5" y2="334.2" stroke="#000" stroke-width="3.2"/>
<line x1="1157.8" y1="336.7" x2="1196.1" y2="321.2" stroke="#000" stroke-width="3.2"/>
<line x1="1157.8" y1="349.7" x2="1196.1" y2="334.2" stroke="#000" stroke-width="3.2"/>
<line x1="896.75" y1="645" x2="896.75" y2="630.2" stroke="#000" stroke-width="3.5"/>
<line x1="896.75" y1="33" x2="896.75" y2="48.8" stroke="#000" stroke-width="3.5"/>
<text x="896.75" y="678.8" font-size="26.7" text-anchor="middle">0</text>
<line x1="1013.9" y1="645" x2="1013.9" y2="630.2" stroke="#000" stroke-width="3.5"/>
<line x1="1013.9" y1="33" x2="1013.9" y2="48.8" stroke="#000" stroke-width="3.5"/>
<text x="1013.9" y="678.8" font-size="26.7" text-anchor="middle">5</text>
<line x1="1131.05" y1="645" x2="1131.05" y2="630.2" stroke="#000" stroke-width="3.5"/>
<line x1="1131.05" y1="33" x2="1131.05" y2="48.8" stroke="#000" stroke-width="3.5"/>
<text x="1131.05" y="678.8" font-size="26.7" text-anchor="middle">10</text>
<line x1="830" y1="299.5" x2="845" y2="299.5" stroke="#000" stroke-width="3.5"/>
<line x1="1177.6" y1="299.5" x2="1162.6" y2="299.5" stroke="#000" stroke-width="3.5"/>
<text x="809.5" y="313.7" font-size="26.7" text-anchor="end">10</text>
<text x="811" y="300.4" font-size="17.5">1</text>
<line x1="830" y1="244.1" x2="845" y2="244.1" stroke="#000" stroke-width="3.5"/>
<line x1="1177.6" y1="244.1" x2="1162.6" y2="244.1" stroke="#000" stroke-width="3.5"/>
<text x="809.5" y="253" font-size="26.7" text-anchor="end">10</text>
<text x="811" y="239.7" font-size="17.5">2</text>
<line x1="830" y1="188.7" x2="845" y2="188.7" stroke="#000" stroke-width="3.5"/>
<line x1="1177.6" y1="188.7" x2="1162.6" y2="188.7" stroke="#000" stroke-width="3.5"/>
<text x="809.5" y="194.5" font-size="26.7" text-anchor="end">10</text>
<text x="811" y="181.2" font-size="17.5">3</text>
<line x1="830" y1="133.3" x2="845" y2="133.3" stroke="#000" stroke-width="3.5"/>
<line x1="1177.6" y1="133.3" x2="1162.6" y2="133.3" stroke="#000" stroke-width="3.5"/>
<text x="809.5" y="136.5" font-size="26.7" text-anchor="end">10</text>
<text x="811" y="123.2" font-size="17.5">4</text>
<line x1="830" y1="77.9" x2="845" y2="77.9" stroke="#000" stroke-width="3.5"/>
<line x1="1177.6" y1="77.9" x2="1162.6" y2="77.9" stroke="#000" stroke-width="3.5"/>
<text x="809.5" y="79.5" font-size="26.7" text-anchor="end">10</text>
<text x="811" y="66.2" font-size="17.5">5</text>
<line x1="830" y1="372" x2="845" y2="372" stroke="#000" stroke-width="3.5"/>
<line x1="1177.6" y1="372" x2="1162.6" y2="372" stroke="#000" stroke-width="3.5"/>
<line x1="830" y1="451.1" x2="838" y2="451.1" stroke="#000" stroke-width="3.5"/>
<line x1="1177.6" y1="451.1" x2="1169.6" y2="451.1" stroke="#000" stroke-width="3.5"/>
<line x1="830" y1="633.2" x2="845" y2="633.2" stroke="#000" stroke-width="3.5"/>
<line x1="1177.6" y1="633.2" x2="1162.6" y2="633.2" stroke="#000" stroke-width="3.5"/>
<text x="820.3" y="381.9" font-size="26.7" text-anchor="end">1</text>
<text x="818.8" y="457.2" font-size="26.7" text-anchor="end">0.5</text>
<text x="817.3" y="641.8" font-size="26.7" text-anchor="end">0.1</text>
<text x="997.8" y="713.3" font-size="26.7" text-anchor="middle">Time (min)</text>
<text transform="translate(757.9 339.8) rotate(-90)" font-size="26.7" text-anchor="middle">Rel. RLU</text>
<text x="724.8" y="29.6" font-size="41.5" font-weight="bold">b</text>
<text transform="translate(852.8 89.3) scale(1 1.11)" font-size="32.4" font-weight="bold">cAMP</text>
<line x1="872.6" y1="118" x2="908.8" y2="118" stroke="#595959" stroke-width="4" stroke-dasharray="15.5 7.3"/>
<line x1="872.6" y1="144.9" x2="908.8" y2="144.9" stroke="#cc0000" stroke-width="4"/>
<line x1="872.6" y1="173.9" x2="908.8" y2="173.9" stroke="#0b86c8" stroke-width="4"/>
<line x1="872.7" y1="203.1" x2="908.8" y2="203.1" stroke="#1e9fe0" stroke-width="3.8" stroke-dasharray="3.9 2.5"/>
<text x="923" y="125" font-size="26.7">jellyfish opsin</text>
<text x="920.3" y="153" font-size="26.7">spider peropsin</text>
<text x="920.3" y="181.3" font-size="26.7">sPeropsin-GsOpL3</text>
<text x="920.3" y="208.0" font-size="26.7">sPeropsin-<tspan dx="0.6">β</tspan><tspan font-size="17.5" dx="0.8" dy="6.5">2</tspan><tspan dy="-6.5" dx="0.3">ARL3</tspan></text>
<polygon points="894.5,240 908.7,240 901.6,277.3" fill="#000"/>
<path d="M831.5 371.69 L833.73 372.05 L835.97 371.84 L838.2 372.12 L840.43 372.15 L842.67 371.48 L844.9 371.42 L847.13 372.4 L849.37 371.71 L851.6 371.68 L853.83 372.59 L856.07 371.96 L858.3 372.4 L860.53 371.97 L862.77 372.17 L865 371.58 L867.23 372.16 L869.47 372.44 L871.7 372.03 L873.93 372.29 L876.17 372.21 L878.4 371.48 L880.63 372.31 L882.87 372.11 L885.1 371.76 L887.33 371.44 L889.57 372.44 L891.8 371.97 L894.03 372.26 L896.27 372.45 L898.5 372.26" fill="none" stroke="#cc0000" stroke-width="4" stroke-linejoin="round"/>
<path d="M831.5 372.59 L833.73 371.85 L835.97 372.42 L838.2 371.92 L840.43 372.61 L842.67 372.53 L844.9 371.44 L847.13 371.49 L849.37 371.6 L851.6 372.65 L853.83 371.91 L856.07 372.18 L858.3 371.72 L860.53 372.01 L862.77 371.84 L865 371.79 L867.23 372.12 L869.47 372.12 L871.7 372.57 L873.93 372.25 L876.17 372.6 L878.4 372.5 L880.63 372.69 L882.87 372.24 L885.1 371.53 L887.33 372.5 L889.57 372.65 L891.8 372.57 L894.03 372.1 L896.27 372.3 L898.5 371.6" fill="none" stroke="#0b86c8" stroke-width="4" stroke-linejoin="round"/>
<path d="M912 372.3 L914.97 371.7 L917.93 371.14 L920.9 370.82 L923.87 371.62 L926.83 371.69 L929.8 370.63 L932.76 371.34 L935.73 370.83 L938.7 370.62 L941.66 370.95 L944.63 371.65 L947.6 371.95 L950.56 371.21 L953.53 372.05 L956.49 371.65 L959.46 372.62 L962.43 372.43 L965.39 373.27 L968.36 373.61 L971.33 373.32 L974.29 374.09 L977.26 373.52 L980.22 373.43 L983.19 374.17 L986.16 373.71 L989.12 374.06 L992.09 374.46 L995.06 374.84 L998.02 374.51 L1000.99 374.52 L1003.96 375.51 L1006.92 374.98 L1009.89 375.77 L1012.85 375.78 L1015.82 375.29 L1018.79 375.46 L1021.75 375.6 L1024.72 375.82 L1027.69 375.84 L1030.65 375.86 L1033.62 375.93 L1036.58 376.28 L1039.55 375.79 L1042.52 375.71 L1045.48 376.02 L1048.45 375.49 L1051.42 375.55 L1054.38 376.29 L1057.35 375.79 L1060.31 375.81 L1063.28 375.22 L1066.25 375.66 L1069.21 375.83 L1072.18 375.21 L1075.15 375.87 L1078.11 375.88 L1081.08 375.25 L1084.04 375.87 L1087.01 375.68 L1089.98 375.92 L1092.94 375.55 L1095.91 375.94 L1098.88 375.97 L1101.84 375.18 L1104.81 375.21 L1107.78 375.89 L1110.74 376.2 L1113.71 375.41 L1116.67 375.63 L1119.64 375.78 L1122.61 375.48 L1125.57 375.52 L1128.54 375.46 L1131.51 375.52 L1134.47 375.76 L1137.44 375.43 L1140.4 375.51 L1143.37 375.94 L1146.34 375.12 L1149.3 375.71 L1152.27 375.89 L1155.24 375.42 L1158.2 375.32 L1161.17 375.95 L1164.13 375.33 L1167.1 375.27 L1170.07 377.2 L1173.03 375 L1176 374.6" fill="none" stroke="#cc0000" stroke-width="4" stroke-linejoin="round"/>
<path d="M911 372 L913.52 374.52 L916.04 376.67 L918.56 378.29 L921.08 379.91 L923.6 381.03 L926.12 381.86 L928.64 382.69 L931.16 383.52 L933.68 383.98 L936.2 384.25 L938.72 384.52 L941.24 384.8 L943.77 385.07 L946.29 385.22 L948.81 385.25 L951.33 385.28 L953.85 385.32 L956.37 385.35 L958.89 385.39 L961.41 385.42 L963.93 385.45 L966.45 385.49 L968.97 385.52 L971.49 385.55 L974.01 385.59 L976.53 385.54 L979.05 385.44 L981.57 385.34 L984.09 385.24 L986.61 385.14 L989.13 385.03 L991.65 384.93 L994.17 384.83 L996.69 384.73 L999.21 384.63 L1001.73 384.55 L1004.26 384.48 L1006.78 384.4 L1009.3 384.33 L1011.82 384.26 L1014.34 384.18 L1016.86 384.11 L1019.38 384.04 L1021.9 383.97 L1024.42 383.89 L1026.94 383.82 L1029.46 383.75 L1031.98 383.67 L1034.5 383.6" fill="none" stroke="#1e9fe0" stroke-width="3.6" stroke-linejoin="round" stroke-dasharray="3.6 2.6"/>
<path d="M911 372 L914.04 387.82 L917.09 405.02 L920.13 424.68 L923.17 443.74 L926.22 460.64 L929.26 473.47 L932.3 484.58 L935.34 492.95 L938.39 499.72 L941.43 504.59 L944.47 508.97 L947.52 512.62 L950.56 514.29 L953.6 514.34 L956.65 516.33 L959.69 517.17 L962.73 520.37 L965.78 515.35 L968.82 518.22 L971.86 521.41 L974.91 523.18 L977.95 522.28 L980.99 522.17 L984.03 522 L987.08 523.87 L990.12 522.76 L993.16 525.47 L996.21 524.54 L999.25 520.82 L1002.29 520.11 L1005.34 521.13 L1008.38 519.37 L1011.42 518.93 L1014.47 517.65 L1017.51 517.74 L1020.55 519.34 L1023.59 522.3 L1026.64 521.16 L1029.68 521.33 L1032.72 520.61 L1035.77 519.62 L1038.81 518.57 L1041.85 519.62 L1044.9 515.55 L1047.94 513.95 L1050.98 516.85 L1054.03 517.54 L1057.07 518.91 L1060.11 517.65 L1063.16 520 L1066.2 519.12 L1069.24 515.51 L1072.28 516.82 L1075.33 516.4 L1078.37 514.91 L1081.41 513.55 L1084.46 512.09 L1087.5 512.14 L1090.54 511.52 L1093.59 510.72 L1096.63 512.64 L1099.67 511.27 L1102.72 513.37 L1105.76 510.86 L1108.8 514.85 L1111.84 514.56 L1114.89 513.24 L1117.93 509.18 L1120.97 512.07 L1124.02 512.48 L1127.06 509.25 L1130.1 511.2 L1133.15 507.93 L1136.19 507.46 L1139.23 509.26 L1142.28 509.54 L1145.32 509.92 L1148.36 512.36 L1151.41 507.7 L1154.45 505.27 L1157.49 505.76 L1160.53 509.04 L1163.58 507.71 L1166.62 508.54 L1169.66 506.43 L1172.71 505.43 L1175.75 506.39" fill="none" stroke="#0b86c8" stroke-width="4" stroke-linejoin="miter"/>
<path d="M911.6 292.8 L912.48 289.08 L913.36 285.46 L914.24 282.01 L915.12 278.77 L916 275.7 L916.88 272.76 L917.75 269.96 L918.63 267.3 L919.51 264.83 L920.39 262.55 L921.27 260.46 L922.15 258.54 L923.03 256.77 L923.91 255.14 L924.79 253.63 L925.67 252.21 L926.55 250.89 L927.43 249.66 L928.31 248.49 L929.19 247.37 L930.06 246.3 L930.94 245.3 L931.82 244.34 L932.7 243.42 L933.58 242.51 L934.46 241.63 L935.34 240.8 L936.22 240.03 L937.1 239.28 L937.98 238.56 L938.86 237.85 L939.74 237.16 L940.62 236.5 L941.49 235.86 L942.37 235.24 L943.25 234.63 L944.13 234.03 L945.01 233.46 L945.89 232.92 L946.77 232.41 L947.65 231.92 L948.53 231.44 L949.41 230.98 L950.29 230.56 L951.17 230.17 L952.05 229.82 L952.93 229.48 L953.8 229.14 L954.68 228.82 L955.56 228.51 L956.44 228.22 L957.32 227.97 L958.2 227.73 L959.08 227.49 L959.96 227.27 L960.84 227.04 L961.72 226.83 L962.6 226.66 L963.48 226.52 L964.36 226.41 L965.24 226.31 L966.11 226.21 L966.99 226.12 L967.87 226.03 L968.75 225.94 L969.63 225.87 L970.51 225.81 L971.39 225.77 L972.27 225.74 L973.15 225.72 L974.03 225.69 L974.91 225.67 L975.79 225.65 L976.67 225.63 L977.54 225.63 L978.42 225.64 L979.3 225.67 L980.18 225.69 L981.06 225.73 L981.94 225.76 L982.82 225.79 L983.7 225.82 L984.58 225.85 L985.46 225.9 L986.34 225.95 L987.22 226.02 L988.1 226.09 L988.98 226.17 L989.85 226.25 L990.73 226.33 L991.61 226.41 L992.49 226.49 L993.37 226.59 L994.25 226.71 L995.13 226.84 L996.01 226.98 L996.89 227.12 L997.77 227.27 L998.65 227.41 L999.53 227.56 L1000.41 227.7 L1001.28 227.85 L1002.16 228 L1003.04 228.15 L1003.92 228.31 L1004.8 228.48 L1005.68 228.65 L1006.56 228.84 L1007.44 229.02 L1008.32 229.2 L1009.2 229.39 L1010.08 229.57 L1010.96 229.75 L1011.84 229.94 L1012.72 230.12 L1013.59 230.31 L1014.47 230.5 L1015.35 230.69 L1016.23 230.89 L1017.11 231.1 L1017.99 231.3 L1018.87 231.51 L1019.75 231.72 L1020.63 231.93 L1021.51 232.13 L1022.39 232.34 L1023.27 232.55 L1024.15 232.75 L1025.03 232.96 L1025.9 233.17 L1026.78 233.38 L1027.66 233.58 L1028.54 233.79 L1029.42 234 L1030.3 234.2 L1031.18 234.41 L1032.06 234.62 L1032.94 234.83 L1033.82 235.03 L1034.7 235.24 L1035.58 235.45 L1036.46 235.66 L1037.33 235.89 L1038.21 236.14 L1039.09 236.4 L1039.97 236.67 L1040.85 236.94 L1041.73 237.21 L1042.61 237.49 L1043.49 237.76 L1044.37 238.03 L1045.25 238.31 L1046.13 238.58 L1047.01 238.85 L1047.89 239.13 L1048.77 239.4 L1049.64 239.67 L1050.52 239.95 L1051.4 240.22 L1052.28 240.49 L1053.16 240.76 L1054.04 241.04 L1054.92 241.31 L1055.8 241.58 L1056.68 241.86 L1057.56 242.13 L1058.44 242.4 L1059.32 242.67 L1060.2 242.94 L1061.07 243.21 L1061.95 243.48 L1062.83 243.75 L1063.71 244.02 L1064.59 244.29 L1065.47 244.56 L1066.35 244.82 L1067.23 245.09 L1068.11 245.36 L1068.99 245.63 L1069.87 245.9 L1070.75 246.17 L1071.63 246.44 L1072.51 246.71 L1073.38 246.98 L1074.26 247.25 L1075.14 247.51 L1076.02 247.78 L1076.9 248.05 L1077.78 248.32 L1078.66 248.59 L1079.54 248.86 L1080.42 249.13 L1081.3 249.41 L1082.18 249.68 L1083.06 249.96 L1083.94 250.23 L1084.82 250.5 L1085.69 250.78 L1086.57 251.05 L1087.45 251.33 L1088.33 251.6 L1089.21 251.88 L1090.09 252.15 L1090.97 252.43 L1091.85 252.7 L1092.73 252.98 L1093.61 253.25 L1094.49 253.53 L1095.37 253.8 L1096.25 254.08 L1097.12 254.35 L1098 254.63 L1098.88 254.9 L1099.76 255.18 L1100.64 255.45 L1101.52 255.73 L1102.4 256 L1103.28 256.27 L1104.16 256.55 L1105.04 256.82 L1105.92 257.1 L1106.8 257.37 L1107.68 257.65 L1108.56 257.92 L1109.43 258.2 L1110.31 258.47 L1111.19 258.75 L1112.07 259.02 L1112.95 259.3 L1113.83 259.57 L1114.71 259.85 L1115.59 260.12 L1116.47 260.4 L1117.35 260.67 L1118.23 260.95 L1119.11 261.22 L1119.99 261.49 L1120.86 261.76 L1121.74 262.02 L1122.62 262.29 L1123.5 262.55 L1124.38 262.81 L1125.26 263.08 L1126.14 263.34 L1127.02 263.61 L1127.9 263.87 L1128.78 264.13 L1129.66 264.4 L1130.54 264.66 L1131.42 264.92 L1132.3 265.19 L1133.17 265.45 L1134.05 265.72 L1134.93 265.98 L1135.81 266.24 L1136.69 266.51 L1137.57 266.77 L1138.45 267.04 L1139.33 267.3 L1140.21 267.56 L1141.09 267.83 L1141.97 268.09 L1142.85 268.35 L1143.73 268.62 L1144.61 268.88 L1145.48 269.15 L1146.36 269.41 L1147.24 269.67 L1148.12 269.94 L1149 270.2 L1149.88 270.46 L1150.76 270.73 L1151.64 270.99 L1152.52 271.25 L1153.4 271.51 L1154.28 271.77 L1155.16 272.04 L1156.04 272.3 L1156.91 272.56 L1157.79 272.82 L1158.67 273.08 L1159.55 273.35 L1160.43 273.61 L1161.31 273.87 L1162.19 274.13 L1163.07 274.39 L1163.95 274.66 L1164.83 274.92 L1165.71 275.18 L1166.59 275.44 L1167.47 275.7 L1168.35 275.97 L1169.22 276.23 L1170.1 276.49 L1170.98 276.75 L1171.86 277.01 L1172.74 277.28 L1173.62 277.54 L1174.5 277.8" fill="none" stroke="#595959" stroke-width="4" stroke-linejoin="round" stroke-dasharray="15.6 7.1"/>
</g>
<g id="panel-c">
<rect x="1302" y="33" width="347.8" height="611.8" fill="none" stroke="#000" stroke-width="3.5"/>
<line x1="1373.5" y1="644.8" x2="1373.5" y2="628.3" stroke="#000" stroke-width="3.5"/>
<line x1="1373.5" y1="33" x2="1373.5" y2="48.8" stroke="#000" stroke-width="3.5"/>
<text x="1373.5" y="678.5" font-size="26.45" text-anchor="middle">0</text>
<line x1="1485.88" y1="644.8" x2="1485.88" y2="628.3" stroke="#000" stroke-width="3.5"/>
<line x1="1485.88" y1="33" x2="1485.88" y2="48.8" stroke="#000" stroke-width="3.5"/>
<text x="1485.88" y="678.5" font-size="26.45" text-anchor="middle">5</text>
<line x1="1598.25" y1="644.8" x2="1598.25" y2="628.3" stroke="#000" stroke-width="3.5"/>
<line x1="1598.25" y1="33" x2="1598.25" y2="48.8" stroke="#000" stroke-width="3.5"/>
<text x="1598.25" y="678.5" font-size="26.45" text-anchor="middle">10</text>
<line x1="1302" y1="499" x2="1319.5" y2="499" stroke="#000" stroke-width="3.5"/>
<line x1="1649.8" y1="499" x2="1632.3" y2="499" stroke="#000" stroke-width="3.5"/>
<text x="1295.6" y="508.2" font-size="26.45" text-anchor="end">0.5</text>
<line x1="1302" y1="353.5" x2="1319.5" y2="353.5" stroke="#000" stroke-width="3.5"/>
<line x1="1649.8" y1="353.5" x2="1632.3" y2="353.5" stroke="#000" stroke-width="3.5"/>
<text x="1295.6" y="362.7" font-size="26.45" text-anchor="end">1.0</text>
<line x1="1302" y1="208" x2="1319.5" y2="208" stroke="#000" stroke-width="3.5"/>
<line x1="1649.8" y1="208" x2="1632.3" y2="208" stroke="#000" stroke-width="3.5"/>
<text x="1295.6" y="217.2" font-size="26.45" text-anchor="end">1.5</text>
<line x1="1302" y1="62.5" x2="1319.5" y2="62.5" stroke="#000" stroke-width="3.5"/>
<line x1="1649.8" y1="62.5" x2="1632.3" y2="62.5" stroke="#000" stroke-width="3.5"/>
<text x="1295.6" y="71.7" font-size="26.45" text-anchor="end">2.0</text>
<text x="1296.6" y="653.3" font-size="26.45" text-anchor="end">0</text>
<text x="1476.5" y="711.5" font-size="26.45" text-anchor="middle">Time (min)</text>
<text transform="translate(1242.5 339.5) rotate(-90)" font-size="26.45" text-anchor="middle">Rel. RLU</text>
<text x="1208.2" y="29.4" font-size="41.5" font-weight="bold">c</text>
<text transform="translate(1335.5 89.3) scale(1 1.11)" font-size="32.4" font-weight="bold">cAMP</text>
<line x1="1336.5" y1="129.5" x2="1372.8" y2="129.5" stroke="#595959" stroke-width="4" stroke-dasharray="15.4 5.6"/>
<line x1="1336.5" y1="159.1" x2="1372.8" y2="159.1" stroke="#cc0000" stroke-width="4"/>
<line x1="1336.5" y1="189.2" x2="1372.8" y2="189.2" stroke="#0b86c8" stroke-width="4"/>
<text x="1384" y="137.5" font-size="26.45">MosOpn3</text>
<text x="1384" y="166.8" font-size="26.45">spider peropsin</text>
<svg x="1380" y="160" width="240" height="37.9" viewBox="0 0 240 37.9" overflow="hidden">
<text x="4" y="36.3" font-size="26.45">sPeropsin-GiOpL3</text>
</svg>
<polygon points="1370.7,243.8 1384.8,243.8 1377.8,280" fill="#000"/>
<path d="M1308.5 352.11 L1311.35 352.9 L1314.2 353.25 L1317.04 354.22 L1319.89 352.88 L1322.74 354.09 L1325.59 348.19 L1328.43 351.07 L1331.28 354.23 L1334.13 352.28 L1336.98 353.95 L1339.83 348.75 L1342.67 351.1 L1345.52 349.63 L1348.37 351.59 L1351.22 351.79 L1354.07 348.09 L1356.91 349.43 L1359.76 349.84 L1362.61 354.05 L1365.46 353.05 L1368.3 349.05 L1371.15 353.26 L1374 348.92" fill="none" stroke="#595959" stroke-width="4" stroke-linejoin="miter" stroke-dasharray="15.5 5.5"/>
<path d="M1308.5 352.88 L1311.35 351.7 L1314.2 351.4 L1317.04 353.49 L1319.89 351.9 L1322.74 351.92 L1325.59 353.76 L1328.43 353.49 L1331.28 352.09 L1334.13 353.71 L1336.98 352.69 L1339.83 353.03 L1342.67 351.89 L1345.52 353.66 L1348.37 353.06 L1351.22 353.72 L1354.07 353.54 L1356.91 352.12 L1359.76 352.27 L1362.61 351.8 L1365.46 351.75 L1368.3 351.56 L1371.15 352.12 L1374 352.85" fill="none" stroke="#cc0000" stroke-width="4" stroke-linejoin="round"/>
<path d="M1308.5 351.31 L1314.2 353.33 L1319.89 352.31 L1325.59 352.23 L1331.28 353.76 L1336.98 352.74 L1342.67 352.25 L1348.37 352.74 L1354.07 353.41 L1359.76 351.47 L1365.46 354.23 L1371.15 351.37 L1374 353.55" fill="none" stroke="#0b86c8" stroke-width="4" stroke-linejoin="round"/>
<path d="M1389 352.33 L1391.99 349.02 L1394.97 350.5 L1397.96 348.41 L1400.94 348.82 L1403.93 346.9 L1406.91 346.79 L1409.9 347.29 L1412.88 350.42 L1415.87 348.96 L1418.85 351.45 L1421.84 352.42 L1424.82 352.67 L1427.81 351.09 L1430.79 351.34 L1433.78 352.06 L1436.76 353.35 L1439.75 351.9 L1442.74 354.38 L1445.72 355.09 L1448.71 355.84 L1451.69 354.06 L1454.68 357.59 L1457.66 355.83 L1460.65 357.37 L1463.63 358.98 L1466.62 360.34 L1469.6 359 L1472.59 361.14 L1475.57 360.39 L1478.56 360.08 L1481.54 360.48 L1484.53 360.45 L1487.51 360.54 L1490.5 360.99 L1493.49 362.69 L1496.47 363.7 L1499.46 361.28 L1502.44 361.02 L1505.43 363.92 L1508.41 362.64 L1511.4 362.34 L1514.38 361.92 L1517.37 363.08 L1520.35 363.86 L1523.34 362.83 L1526.32 362.81 L1529.31 361.8 L1532.29 364.46 L1535.28 361.89 L1538.26 363.36 L1541.25 364.48 L1544.24 362.44 L1547.22 364.33 L1550.21 365.06 L1553.19 364.08 L1556.18 364.45 L1559.16 362.3 L1562.15 363.18 L1565.13 362.22 L1568.12 364.2 L1571.1 362.45 L1574.09 362.82 L1577.07 364.35 L1580.06 363.81 L1583.04 364.07 L1586.03 362.4 L1589.01 362.4 L1592 363.02 L1594.99 362.17 L1597.97 361.5 L1600.96 361.73 L1603.94 361.07 L1606.93 361.93 L1609.91 363.93 L1612.9 364.01 L1615.88 363.17 L1618.87 364.03 L1621.85 364.84 L1624.84 364.56 L1627.82 363.46 L1630.81 363.35 L1633.79 361.97 L1636.78 361.05 L1639.76 363.09 L1642.75 363.82" fill="none" stroke="#cc0000" stroke-width="4" stroke-linejoin="miter"/>
<path d="M1386.5 311.25 L1389.49 300.26 L1392.47 289.42 L1395.46 279.42 L1398.44 273.59 L1401.43 273.04 L1404.41 271.54 L1407.4 270.58 L1410.38 268.81 L1413.37 271.61 L1416.35 268.63 L1419.34 265.17 L1422.32 270.57 L1425.31 270.29 L1428.29 267.32 L1431.28 268.97 L1434.26 268.82 L1437.25 269.62 L1440.24 268.32 L1443.22 271.66 L1446.21 271.43 L1449.19 274.17 L1452.18 274.28 L1455.16 276.74 L1458.15 277.01 L1461.13 278.63 L1464.12 277.73 L1467.1 279.97 L1470.09 281.36 L1473.07 282.9 L1476.06 282.34 L1479.04 285.86 L1482.03 284.18 L1485.01 281.14 L1488 283.38 L1490.99 284.34 L1493.97 283.53 L1496.96 284.61 L1499.94 283.05 L1502.93 285.83 L1505.91 286.21 L1508.9 284.23 L1511.88 285.09 L1514.87 285.38 L1517.85 286.12 L1520.84 284.47 L1523.82 287.73 L1526.81 287.59 L1529.79 288.65 L1532.78 287.73 L1535.76 288.65 L1538.75 289.35 L1541.74 288.83 L1544.72 289.25 L1547.71 286.41 L1550.69 287.03 L1553.68 288.27 L1556.66 289.22 L1559.65 287.47 L1562.63 289.5 L1565.62 289.3 L1568.6 286.83 L1571.59 288.63 L1574.57 287.6 L1577.56 286.88 L1580.54 287.21 L1583.53 287.98 L1586.51 287.41 L1589.5 287.46 L1592.49 286.8 L1595.47 288.6 L1598.46 288.25 L1601.44 289.22 L1604.43 290.06 L1607.41 289.53 L1610.4 293.27 L1613.38 290.43 L1616.37 293.08 L1619.35 293.59 L1622.34 295.3 L1625.32 295.22 L1628.31 299.39 L1631.29 297.18 L1634.28 292.77 L1637.26 293.38 L1640.25 292.8" fill="none" stroke="#0b86c8" stroke-width="4" stroke-linejoin="miter"/>
<path d="M1386 412.5 L1389.02 427.17 L1392.04 438.97 L1395.06 447.12 L1398.08 453.16 L1401.1 457.73 L1404.12 461.62 L1407.14 464.49 L1410.16 466.37 L1413.19 466.87 L1416.21 466.34 L1419.23 466.5 L1422.25 467.18 L1425.27 466.84 L1428.29 466.84 L1431.31 469.75 L1434.33 469.66 L1437.35 469.19 L1440.37 468.82 L1443.39 470.93 L1446.41 471.2 L1449.43 473.08 L1452.45 473.51 L1455.47 472.53 L1458.49 471.94 L1461.51 474.39 L1464.54 471.39 L1467.56 472.18 L1470.58 474.31 L1473.6 474.89 L1476.62 472.92 L1479.64 474.53 L1482.66 475.28 L1485.68 473.08 L1488.7 473.05 L1491.72 472.02 L1494.74 472.02 L1497.76 474.36 L1500.78 471.87 L1503.8 473.83 L1506.82 473.41 L1509.84 471.95 L1512.86 470.43 L1515.89 472.89 L1518.91 470.75 L1521.93 470.14 L1524.95 469.47 L1527.97 471.69 L1530.99 469.52 L1534.01 468.44 L1537.03 468.86 L1540.05 467.21 L1543.07 468.81 L1546.09 467.83 L1549.11 466.95 L1552.13 468.49 L1555.15 468.25 L1558.17 464.76 L1561.19 466.33 L1564.21 464.95 L1567.24 467.06 L1570.26 466.07 L1573.28 463.63 L1576.3 463.31 L1579.32 462.48 L1582.34 465.25 L1585.36 462.2 L1588.38 462.99 L1591.4 462.16 L1594.42 462.51 L1597.44 462.05 L1600.46 462.28 L1603.48 459.6 L1606.5 461.74 L1609.52 459.69 L1612.54 460.27 L1615.56 459.67 L1618.59 460.09 L1621.61 461.54 L1624.63 461.86 L1627.65 462.03 L1630.67 463.97 L1633.69 463.56 L1636.71 461.63 L1639.73 462.63 L1642.75 463.58" fill="none" stroke="#595959" stroke-width="4" stroke-linejoin="miter" stroke-dasharray="15.5 5.5"/>
</g>
</svg></body></html>
